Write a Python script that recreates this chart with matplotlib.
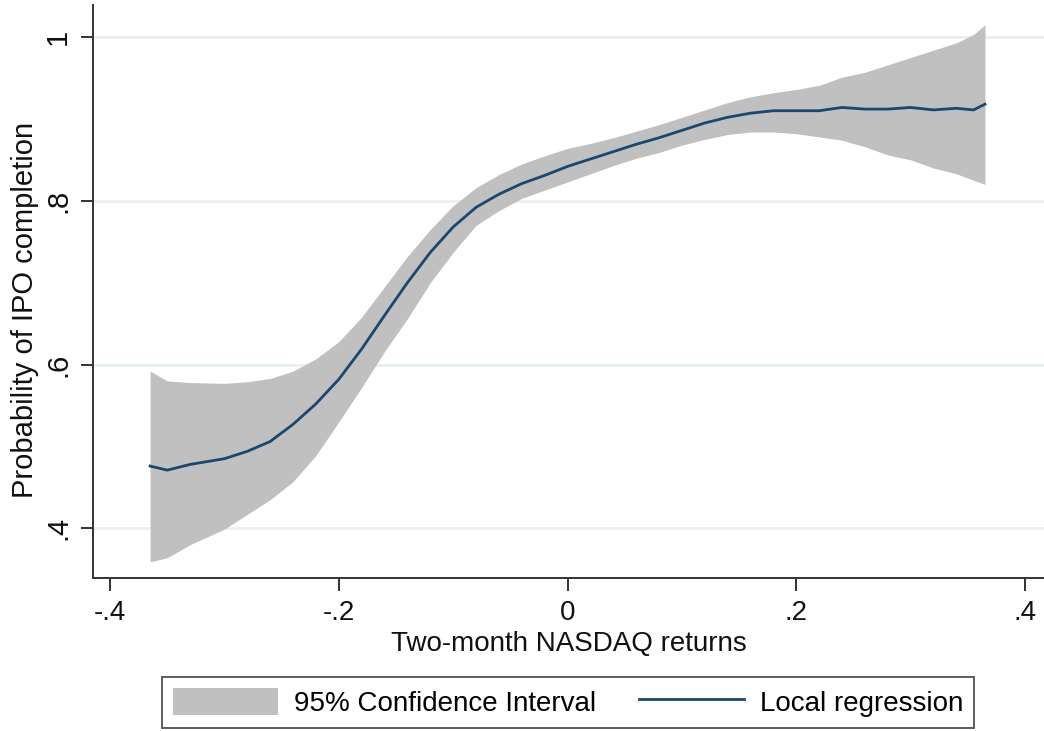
import matplotlib
matplotlib.use("Agg")
import matplotlib.pyplot as plt
from matplotlib.patches import Patch
from matplotlib.lines import Line2D

# Local regression of IPO completion on two-month NASDAQ returns
retornos = [-0.365, -0.35, -0.33, -0.30, -0.28, -0.26, -0.24, -0.22, -0.20, -0.18,
            -0.16, -0.14, -0.12, -0.10, -0.08, -0.06, -0.04, -0.02, 0.00, 0.02,
            0.04, 0.06, 0.08, 0.10, 0.12, 0.14, 0.16, 0.18, 0.20, 0.22,
            0.24, 0.26, 0.28, 0.30, 0.32, 0.34, 0.355, 0.365]
prob = [0.476, 0.471, 0.478, 0.485, 0.494, 0.506, 0.527, 0.552, 0.582, 0.619,
        0.660, 0.700, 0.737, 0.768, 0.792, 0.808, 0.821, 0.831, 0.842, 0.851,
        0.860, 0.869, 0.877, 0.886, 0.895, 0.902, 0.907, 0.910, 0.910, 0.910,
        0.914, 0.912, 0.912, 0.914, 0.911, 0.913, 0.911, 0.918]
ic_sup = [0.592, 0.580, 0.578, 0.577, 0.579, 0.583, 0.592, 0.607, 0.628, 0.658,
          0.695, 0.732, 0.765, 0.794, 0.816, 0.832, 0.845, 0.855, 0.864, 0.870,
          0.877, 0.885, 0.893, 0.902, 0.911, 0.920, 0.927, 0.932, 0.936, 0.941,
          0.951, 0.957, 0.966, 0.975, 0.984, 0.993, 1.003, 1.015]
ic_inf = [0.359, 0.364, 0.380, 0.399, 0.417, 0.435, 0.457, 0.489, 0.530, 0.572,
          0.616, 0.656, 0.700, 0.737, 0.770, 0.788, 0.803, 0.813, 0.823, 0.833,
          0.843, 0.852, 0.859, 0.868, 0.875, 0.881, 0.884, 0.884, 0.882, 0.878,
          0.874, 0.866, 0.856, 0.850, 0.840, 0.833, 0.825, 0.820]

xticks = [-0.4, -0.2, 0.0, 0.2, 0.4]
xtick_labels = ['-.4', '-.2', '0', '.2', '.4']
yticks = [0.4, 0.6, 0.8, 1.0]
ytick_labels = ['.4', '.6', '.8', '1']

plt.rcParams['font.family'] = ['Liberation Sans', 'DejaVu Sans']

fig = plt.figure(figsize=(10.44, 7.31), dpi=100)
ax = fig.add_axes([0.089, 0.209, 0.911, 0.784])

color_ic = '#c0c0c0'
color_linea = '#1a476f'

ax.fill_between(retornos, ic_inf, ic_sup, color=color_ic, linewidth=0, zorder=2)
ax.plot(retornos, prob, color=color_linea, linewidth=2.0, zorder=3)

ax.set_xlim(-0.415, 0.4166)
ax.set_ylim(0.339, 1.039)
ax.set_xticks(xticks)
ax.set_xticklabels(xtick_labels, fontsize=20)
ax.set_yticks(yticks)
ax.set_yticklabels(ytick_labels, rotation=90, va='center', fontsize=21)

ax.grid(axis='y', color='#e8f0f2', linewidth=2, zorder=1)
ax.set_axisbelow(True)

for lado in ['top', 'right']:
    ax.spines[lado].set_visible(False)
for lado in ['left', 'bottom']:
    ax.spines[lado].set_color('#333333')
    ax.spines[lado].set_linewidth(1.4)

ax.tick_params(axis='both', direction='out', length=9, width=1.4, color='#333333',
               labelcolor='#111111')
ax.tick_params(axis='x', pad=7)
ax.tick_params(axis='y', pad=6)

ax.set_xlabel('Two-month NASDAQ returns', fontsize=20, color='#111111', labelpad=3)
ax.set_ylabel('Probability of IPO completion', fontsize=21, color='#111111')
ax.yaxis.set_label_coords(-0.057, 0.468)

handles = [Patch(facecolor=color_ic, edgecolor='none', label='95% Confidence Interval'),
           Line2D([0], [0], color=color_linea, linewidth=2.0, label='Local regression')]
leg = fig.legend(handles=handles, loc='center', bbox_to_anchor=(0.544, 0.0390), ncol=2,
                 fontsize=20, frameon=True, fancybox=False, edgecolor='#333333',
                 handlelength=3.8, handleheight=1.1, handletextpad=0.55, columnspacing=1.55,
                 borderpad=0.4)
leg.get_frame().set_linewidth(1.4)

fig.savefig('out.png', dpi=100)
